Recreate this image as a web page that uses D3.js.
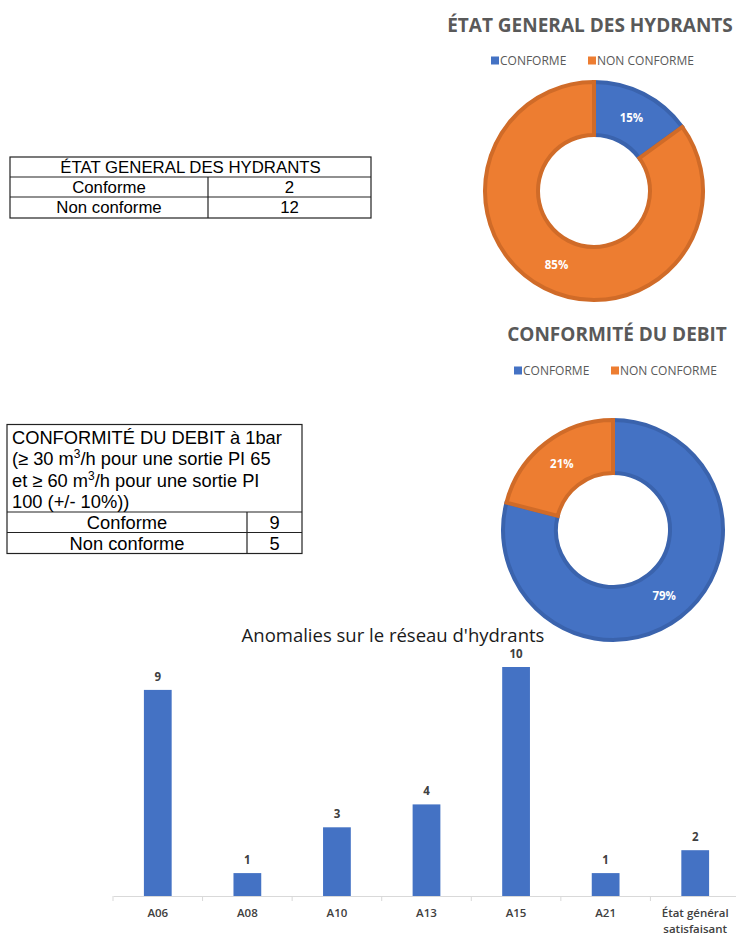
<!DOCTYPE html>
<html><head><meta charset="utf-8">
<script src="https://cdn.jsdelivr.net/npm/d3@7"></script>
<style>body{margin:0;background:#fff}svg{display:block}</style>
</head><body>
<script>
// ---- data ----
const table1Title = "ÉTAT GENERAL DES HYDRANTS";
const table1Labels = ["Conforme", "Non conforme"];
const table1Values = [2, 12];

const table2TitleLines = ["CONFORMITÉ DU DEBIT à 1bar", "(≥ 30 m³/h pour une sortie PI 65", "et ≥ 60 m³/h pour une sortie PI", "100 (+/- 10%))"];
const table2Labels = ["Conforme", "Non conforme"];
const table2Values = [9, 5];

const donutCategories = ["CONFORME", "NON CONFORME"];
const donut1Title = "ÉTAT GENERAL DES HYDRANTS";
const donut1Values = [15, 85];
const donut2Title = "CONFORMITÉ DU DEBIT";
const donut2Values = [79, 21];

const barTitle = "Anomalies sur le réseau d'hydrants";
const barCategories = ["A06", "A08", "A10", "A13", "A15", "A21", "État général satisfaisant"];
const barValues = [9, 1, 3, 4, 10, 1, 2];

// ---- drawing ----
const W = 736, H = 936;
const svg = d3.select("body").append("svg").attr("width", W).attr("height", H);
const fillColors = ["#4472c4", "#ed7d31"];
const strokeColors = ["#3a63ad", "#d06b28"];

// Table 1
(function(){
  const g = svg.append("g").attr("font-family", "Arial, 'Liberation Sans', sans-serif").attr("font-size", 16.8).attr("fill", "#000");
  const x0 = 10, x1 = 371, xm = 208;
  const ys = [157, 177, 197, 218];
  g.append("rect").attr("x", x0).attr("y", ys[0]).attr("width", x1 - x0).attr("height", ys[3] - ys[0]).attr("fill", "none").attr("stroke", "#222").attr("stroke-width", 1.2);
  [ys[1], ys[2]].forEach(y => g.append("line").attr("x1", x0).attr("x2", x1).attr("y1", y).attr("y2", y).attr("stroke", "#222").attr("stroke-width", 1.2));
  g.append("line").attr("x1", xm).attr("x2", xm).attr("y1", ys[1]).attr("y2", ys[3]).attr("stroke", "#222").attr("stroke-width", 1.2);
  g.append("text").attr("x", (x0 + x1) / 2).attr("y", ys[0] + 16).attr("text-anchor", "middle").text(table1Title);
  table1Labels.forEach((l, i) => {
    g.append("text").attr("x", (x0 + xm) / 2).attr("y", ys[i + 1] + 16).attr("text-anchor", "middle").text(l);
    g.append("text").attr("x", (xm + x1) / 2).attr("y", ys[i + 1] + 16).attr("text-anchor", "middle").text(table1Values[i]);
  });
})();

// Table 2
(function(){
  const g = svg.append("g").attr("font-family", "Arial, 'Liberation Sans', sans-serif").attr("font-size", 18.3).attr("fill", "#000");
  const x0 = 7, x1 = 302, xm = 247;
  const ys = [424.5, 512, 532.5, 553.5];
  g.append("rect").attr("x", x0).attr("y", ys[0]).attr("width", x1 - x0).attr("height", ys[3] - ys[0]).attr("fill", "none").attr("stroke", "#222").attr("stroke-width", 1.2);
  [ys[1], ys[2]].forEach(y => g.append("line").attr("x1", x0).attr("x2", x1).attr("y1", y).attr("y2", y).attr("stroke", "#222").attr("stroke-width", 1.2));
  g.append("line").attr("x1", xm).attr("x2", xm).attr("y1", ys[1]).attr("y2", ys[3]).attr("stroke", "#222").attr("stroke-width", 1.2);
  table2TitleLines.forEach((l, i) => {
    const t = g.append("text").attr("x", x0 + 5).attr("y", ys[0] + 19 + i * 21.5);
    const parts = l.split("³");
    if (parts.length > 1) {
      t.append("tspan").text(parts[0]);
      t.append("tspan").attr("dy", -7).attr("font-size", 12).text("3");
      t.append("tspan").attr("dy", 7).text(parts[1]);
    } else t.text(l);
  });
  table2Labels.forEach((l, i) => {
    g.append("text").attr("x", (x0 + xm) / 2).attr("y", ys[i + 1] + 17).attr("text-anchor", "middle").text(l);
    g.append("text").attr("x", (xm + x1) / 2).attr("y", ys[i + 1] + 17).attr("text-anchor", "middle").text(table2Values[i]);
  });
})();

// Donut helper
function donut(title, values, opts) {
  const g = svg.append("g").attr("font-family", "'Open Sans', 'Noto Sans', sans-serif");
  g.append("text").attr("x", opts.titleX).attr("y", opts.titleY).attr("text-anchor", "middle")
    .attr("font-size", 19).attr("font-weight", "bold").attr("fill", "#595959").text(title);
  // legend
  const leg = g.append("g").attr("font-size", 12).attr("fill", "#595959");
  donutCategories.forEach((c, i) => {
    const lx = opts.legendX[i];
    leg.append("rect").attr("x", lx).attr("y", opts.legendY - 8.5).attr("width", 8).attr("height", 8).attr("fill", fillColors[i]);
    leg.append("text").attr("x", lx + 9).attr("y", opts.legendY).attr("fill", "#595959").text(c);
  });
  const pie = d3.pie().sort(null).value(d => d)(values);
  const arc = d3.arc().innerRadius(opts.r0).outerRadius(opts.r1);
  const cg = g.append("g").attr("transform", `translate(${opts.cx},${opts.cy})`);
  cg.selectAll("path").data(pie).join("path")
    .attr("d", d3.arc().innerRadius(opts.r0 + 2).outerRadius(opts.r1 - 2))
    .attr("fill", (d, i) => fillColors[i])
    .attr("stroke", (d, i) => strokeColors[i]).attr("stroke-width", 4).attr("stroke-linejoin", "miter");
  cg.selectAll("text").data(pie).join("text")
    .attr("transform", d => `translate(${arc.centroid(d)})`)
    .attr("text-anchor", "middle").attr("dy", "0.35em")
    .attr("font-size", 11.5).attr("font-weight", "bold").attr("fill", "#fff")
    .text(d => d.data + "%");
}

donut(donut1Title, donut1Values, {titleX: 590, titleY: 32, legendX: [491, 588], legendY: 65, cx: 594, cy: 191, r0: 54, r1: 111});
donut(donut2Title, donut2Values, {titleX: 617, titleY: 341, legendX: [514, 611], legendY: 375, cx: 613, cy: 530, r0: 55, r1: 112});

// Bar chart
(function(){
  const g = svg.append("g").attr("font-family", "'Open Sans', 'Noto Sans', sans-serif");
  const left = 113, right = 740, base = 896, top = 667;
  const x = d3.scaleBand().domain(barCategories).range([left, right]).paddingInner(0.69).paddingOuter(0.345);
  const y = d3.scaleLinear().domain([0, 10]).range([base, top]);
  g.append("text").attr("x", 393).attr("y", 642).attr("text-anchor", "middle").attr("font-size", 18.5).attr("fill", "#1a1a1a").text(barTitle);
  g.selectAll("rect.bar").data(barValues).join("rect").attr("class", "bar")
    .attr("x", (d, i) => x(barCategories[i])).attr("width", x.bandwidth())
    .attr("y", d => y(d)).attr("height", d => base - y(d)).attr("fill", "#4472c4");
  g.selectAll("text.val").data(barValues).join("text").attr("class", "val")
    .attr("x", (d, i) => x(barCategories[i]) + x.bandwidth() / 2).attr("y", d => y(d) - 9)
    .attr("text-anchor", "middle").attr("font-size", 11.5).attr("font-weight", "bold").attr("fill", "#404040").text(d => d);
  const axis = d3.axisBottom(x).tickSize(0).tickFormat("");
  const ag = g.append("g").attr("transform", `translate(0,${base})`).call(axis);
  ag.select(".domain").attr("stroke", "#d9d9d9");
  const step = x.step();
  const bounds = d3.range(barCategories.length + 1).map(i => left + i * step);
  g.selectAll("line.bt").data(bounds).join("line").attr("class", "bt")
    .attr("x1", d => d).attr("x2", d => d).attr("y1", base).attr("y2", base + 5).attr("stroke", "#d9d9d9");
  barCategories.forEach((c, i) => {
    const cx = x(c) + x.bandwidth() / 2;
    const words = c === "État général satisfaisant" ? ["État général", "satisfaisant"] : [c];
    words.forEach((w, j) => g.append("text").attr("x", cx).attr("y", base + 21 + j * 16)
      .attr("text-anchor", "middle").attr("font-size", 11.5).attr("font-weight", "600").attr("fill", "#404040").text(w));
  });
})();
</script>
</body></html>
